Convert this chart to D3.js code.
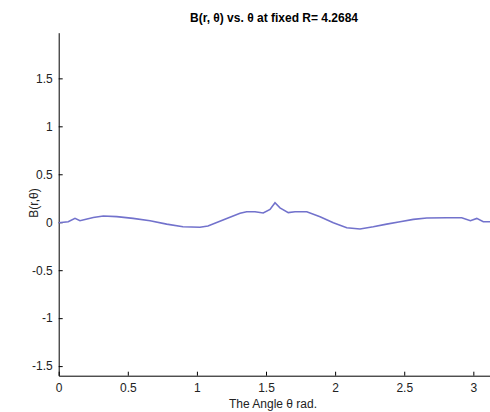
<!DOCTYPE html>
<html><head><meta charset="utf-8">
<script src="https://cdn.jsdelivr.net/npm/d3@7"></script>
<style>body{margin:0;background:#fff}svg{display:block}</style>
</head><body>
<svg id="c" width="490" height="412"></svg>
<script>
const theta = [0,0.069,0.118,0.154,0.25,0.323,0.42,0.538,0.661,0.781,0.899,1.022,1.08,1.216,1.312,1.36,1.42,1.48,1.529,1.565,1.601,1.661,1.71,1.795,1.891,1.987,2.084,2.18,2.276,2.373,2.47,2.566,2.663,2.808,2.916,2.979,3.025,3.072,3.1416];
const B = [-0.005,0.005,0.04,0.016,0.05,0.065,0.058,0.04,0.016,-0.02,-0.047,-0.053,-0.04,0.04,0.093,0.11,0.11,0.096,0.134,0.203,0.15,0.1,0.11,0.11,0.058,-0.005,-0.057,-0.07,-0.047,-0.02,0.005,0.03,0.044,0.047,0.047,0.016,0.04,0.005,0.005];
const xTicks = [0,0.5,1,1.5,2,2.5,3];
const yTicks = [-1.5,-1,-0.5,0,0.5,1,1.5];
const title = "B(r, \u03b8) vs. \u03b8 at fixed R= 4.2684";
const xLabel = "The Angle \u03b8 rad.";
const yLabel = "B(r,\u03b8)";

const svg = d3.select("#c");
const mL = 58.7, mR = 492.9, mT = 32.7, mB = 375.7;
const x = d3.scaleLinear().domain([0, Math.PI]).range([mL, mR]);
const y = d3.scaleLinear().domain([-1.6, 1.976]).range([mB, mT]);
const font = "'Liberation Sans', Arial, sans-serif";

const xa = svg.append("g").attr("transform", `translate(0,${mB})`)
  .call(d3.axisBottom(x).tickValues(xTicks).tickSize(-4).tickPadding(8).tickSizeOuter(0).tickFormat(d3.format("")));
const ya = svg.append("g").attr("transform", `translate(${mL},0)`)
  .call(d3.axisLeft(y).tickValues(yTicks).tickSize(-4).tickPadding(6).tickSizeOuter(0).tickFormat(d => d3.format("")(d).replace("\u2212","-")));
[xa, ya].forEach(a => {
  a.selectAll("path,line").attr("stroke", "#000").attr("stroke-width", 1);
  a.selectAll("text").attr("font-family", font).attr("font-size", 12).attr("fill", "#222");
});

const line = d3.line().x((d, i) => x(theta[i])).y(d => y(d));
svg.append("path").datum(B).attr("d", line)
  .attr("fill", "none").attr("stroke", "#7272cc").attr("stroke-width", 1.6);

svg.append("text").attr("x", 274).attr("y", 22).attr("text-anchor", "middle")
  .attr("font-family", font).attr("font-weight", "bold").attr("font-size", 12).text(title);
svg.append("text").attr("x", 273).attr("y", 408).attr("text-anchor", "middle")
  .attr("font-family", font).attr("font-size", 12).attr("fill", "#222").text(xLabel);
svg.append("text").attr("transform", "translate(38,203) rotate(-90)").attr("text-anchor", "middle")
  .attr("font-family", font).attr("font-size", 12).attr("fill", "#222").text(yLabel);
</script>
</body></html>
